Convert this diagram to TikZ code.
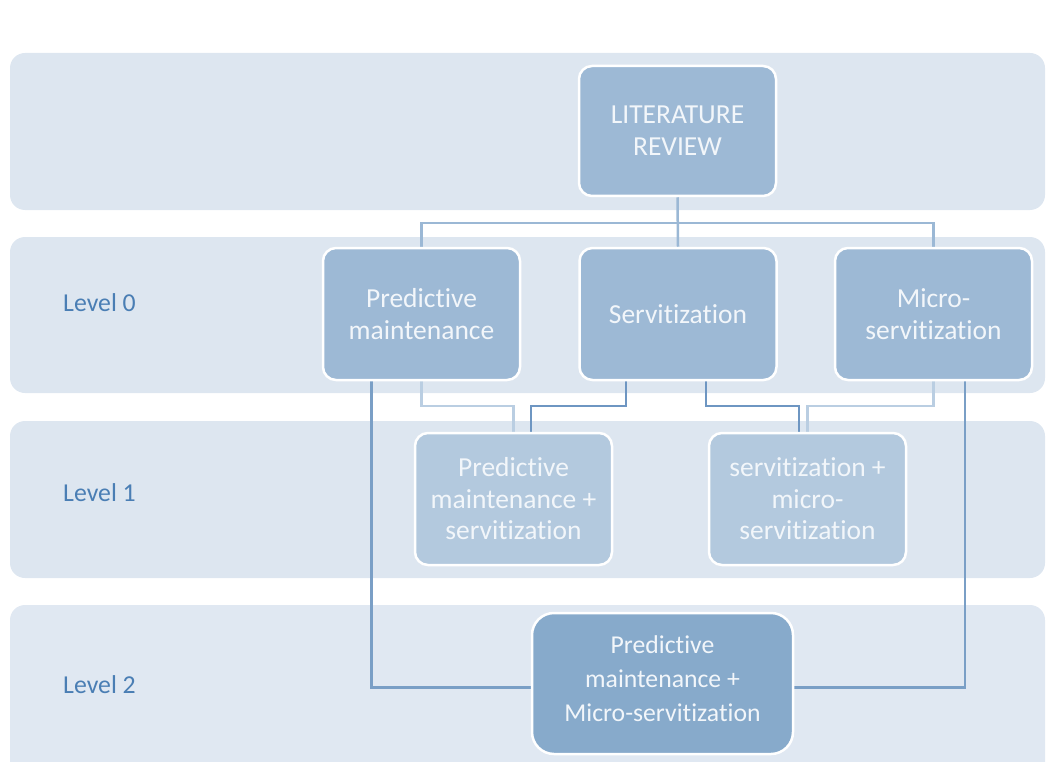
\documentclass[tikz,border=0pt]{standalone}
\usepackage{fontspec}
\setmainfont{Carlito}[Ligatures=NoCommon]
\usetikzlibrary{calc}
\pgfdeclarelayer{bands}
\pgfdeclarelayer{links}
\pgfsetlayers{bands,links,main}

\definecolor{bandfill}{RGB}{221,230,240}
\definecolor{bandfilllow}{RGB}{224,232,242}
\definecolor{topfill}{RGB}{157,185,213}
\definecolor{midfill}{RGB}{179,201,222}
\definecolor{lowfill}{RGB}{135,170,203}
\definecolor{boxtext}{RGB}{242,246,250}
\definecolor{treeline}{RGB}{155,184,213}
\definecolor{paleline}{RGB}{186,206,226}
\definecolor{deepline}{RGB}{110,150,194}
\definecolor{longline}{RGB}{122,159,198}
\definecolor{leveltext}{RGB}{74,126,180}

\tikzset{
  band/.style={fill=#1, rounded corners=15pt},
  box/.style={draw=white, line width=2.5pt, rounded corners=13pt,
    text=boxtext, align=center, inner sep=0pt,
    minimum width=197pt, minimum height=132pt,
    font=\fontsize{27.5}{32}\selectfont},
  topbox/.style={box, fill=topfill},
  midbox/.style={box, fill=midfill, font=\fontsize{27.5}{31.5}\selectfont},
  lowbox/.style={box, fill=lowfill, rounded corners=22pt,
    minimum width=261pt, minimum height=141pt,
    font=\fontsize{25.7}{34}\selectfont},
  levellabel/.style={anchor=west, text=leveltext, inner sep=0pt,
    font=\fontsize{25.8}{30}\selectfont},
  link/.style={line width=2.5pt, #1},
}

\begin{document}
\begin{tikzpicture}[x=1pt, y=-1pt]
\useasboundingbox (0,0) rectangle (1046,762);
\clip (0,0) rectangle (1046,762);

% row bands
\begin{pgfonlayer}{bands}
  \fill[band=bandfill] (10,53) rectangle (1045,210);
  \fill[band=bandfill] (10,237) rectangle (1045,393);
  \fill[band=bandfill] (10,421) rectangle (1045,578);
  \fill[band=bandfilllow] (10,605) rectangle (1045,790);
\end{pgfonlayer}

% level labels
\node[levellabel] (lv0) at (63,303) {Level 0};
\node[levellabel] (lv1) at (63,493) {Level 1};
\node[levellabel] (lv2) at (63,685) {Level 2};

% boxes
\node[topbox, minimum height=130pt] (lit) at (677.5,131) {LITERATURE\\REVIEW};
\node[topbox] (pm) at (421.5,314) {Predictive\\maintenance};
\node[topbox] (sv) at (678,314) {Servitization};
\node[topbox] (ms) at (933.5,314) {Micro-\\servitization};
\node[midbox] (pmsv) at (513.5,499) {Predictive\\maintenance +\\servitization};
\node[midbox] (svms) at (807.5,499) {servitization +\\micro-\\servitization};
\node[lowbox] (pmms) at (662.5,683.5)
  {Predictive\\maintenance +\\Micro-servitization\rule[-9pt]{0pt}{0pt}};

% connectors
\coordinate (bus) at (678,223);
\coordinate (split) at (0,406);
\begin{pgfonlayer}{links}
  \draw[link=treeline] (lit.south) -- (sv.north);
  \draw[link=treeline] (pm.north) |- (bus) -| (ms.north);

  \draw[link=paleline] (pm.south) |- (pm.south |- split) -| (pmsv.north);
  \draw[link=paleline] (ms.south) |- (ms.south |- split) -| (svms.north);
  \draw[link=deepline] ([xshift=-52pt]sv.south) |- ([xshift=-52pt]sv.south |- split)
       -| ([xshift=17.5pt]pmsv.north);
  \draw[link=deepline] ([xshift=28pt]sv.south) |- ([xshift=28pt]sv.south |- split)
       -| ([xshift=-8.5pt]svms.north);

  \draw[link=longline] ([xshift=-50pt]pm.south) |- ([yshift=-4pt]pmms.west);
  \draw[link=longline] ([xshift=31.5pt]ms.south) |- ([yshift=-4pt]pmms.east);
\end{pgfonlayer}
\end{tikzpicture}
\end{document}
